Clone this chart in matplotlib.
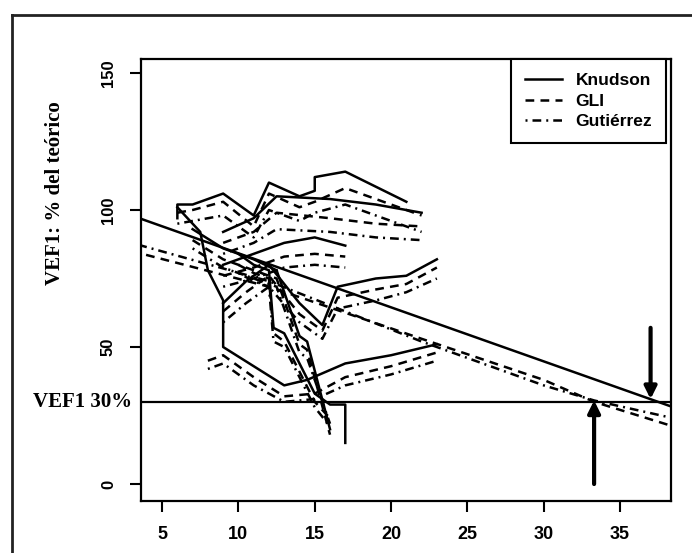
import matplotlib.pyplot as plt
from matplotlib.lines import Line2D

# long reference lines (age, % predicted)
knudson_long_x = [3, 38.5]
knudson_long_y = [98, 28]
gli_long_x = [3, 12, 22, 30, 33.3, 38.5]
gli_long_y = [85, 72, 53, 38, 30, 21]
gutierrez_long_x = [3, 12, 22, 30, 33.3, 38.5]
gutierrez_long_y = [88, 74, 52, 36, 30.5, 24]

# individual patients, one list per patient
knudson_x = [
    [6, 6, 7, 9, 11, 12, 14, 15, 15, 17, 21],
    [9, 11, 12.5, 16, 19, 22],
    [9, 11, 13, 15, 17],
    [9, 10.5, 12, 14, 15.5, 16.5, 19, 21, 23],
    [7, 9, 11, 12.5, 14, 14.5, 16],
    [6, 7.5, 8, 9, 9, 11, 13, 14.5, 17, 20, 23],
    [10, 11, 12, 12.3, 13, 15, 16, 17, 17],
]
knudson_y = [
    [97, 102, 102, 106, 98, 110, 105, 107, 112, 114, 103],
    [92, 97, 105, 104, 102, 99],
    [80, 84, 88, 90, 87],
    [66, 74, 80, 66, 58, 72, 75, 76, 82],
    [93, 86, 82, 78, 54, 52, 20],
    [101, 92, 78, 67, 50, 43, 36, 38, 44, 47, 51],
    [84, 80, 78, 57, 55, 33, 29, 29, 15],
]
gli_x = [
    [6, 7, 9, 11, 12, 14, 15, 17, 22],
    [9, 11, 12.5, 16, 19, 22],
    [9, 11, 13, 15, 17],
    [9, 10.5, 12, 14, 15.5, 16.5, 19, 21, 23],
    [7, 9, 11, 12.5, 14, 14.5, 16],
    [8, 9, 11, 13, 15, 17, 20, 23],
    [10, 11, 12, 12.3, 13, 15, 16],
]
gli_y = [
    [99, 100, 103, 94, 106, 101, 103, 108, 98],
    [88, 92, 99, 97, 95, 94],
    [76, 79, 83, 84, 83],
    [63, 70, 76, 62, 56, 68, 71, 73, 79],
    [89, 82, 78, 75, 51, 49, 18],
    [45, 47, 39, 32, 33, 39, 43, 48],
    [80, 77, 75, 55, 52, 30, 24],
]
gutierrez_x = gli_x
gutierrez_y = [
    [95, 96, 98, 90, 100, 96, 99, 102, 92],
    [84, 88, 93, 92, 90, 89],
    [72, 75, 79, 80, 79],
    [59, 66, 72, 59, 53, 64, 67, 70, 75],
    [86, 79, 75, 72, 48, 46, 22],
    [42, 44, 36, 30, 31, 36, 40, 45],
    [77, 74, 72, 52, 50, 28, 21],
]

x_ticks = [5, 10, 15, 20, 25, 30, 35]
y_ticks = [0, 50, 100, 150]
cutoff = 30

k_style = dict(color='black', lw=1.8, ls='-')
g_style = dict(color='black', lw=1.8, ls=(0, (3.5, 2.5)))
t_style = dict(color='black', lw=1.8, ls=(0, (0.8, 2, 3.5, 2)))

fig = plt.figure(figsize=(6.92, 5.53), dpi=100)
ax = fig.add_axes([0.2038, 0.0940, 0.7659, 0.7993])

ax.plot(knudson_long_x, knudson_long_y, **k_style)
ax.plot(gli_long_x, gli_long_y, **g_style)
ax.plot(gutierrez_long_x, gutierrez_long_y, **t_style)
for xs, ys in zip(knudson_x, knudson_y):
    ax.plot(xs, ys, **k_style)
for xs, ys in zip(gli_x, gli_y):
    ax.plot(xs, ys, **g_style)
for xs, ys in zip(gutierrez_x, gutierrez_y):
    ax.plot(xs, ys, **t_style)

ax.axhline(cutoff, color='black', lw=1.6)
arrow = dict(arrowstyle='-|>', lw=3, color='black', mutation_scale=18, shrinkA=0, shrinkB=0)
ax.annotate('', xy=(37, 31), xytext=(37, 57), arrowprops=arrow)
ax.annotate('', xy=(33.3, 30.5), xytext=(33.3, 0), arrowprops=arrow)

ax.set_xlim(3.62, 38.34)
ax.set_ylim(-6.2, 155.1)
ax.set_xticks(x_ticks)
ax.set_xticklabels([str(t) for t in x_ticks], family='Liberation Sans', weight='bold', fontsize=13)
ax.set_yticks(y_ticks)
ax.set_yticklabels([str(t) for t in y_ticks], family='Liberation Sans', weight='bold', fontsize=12,
                   rotation=90, va='center')
ax.tick_params(length=8, width=1.5, pad=10)
for s in ax.spines.values():
    s.set_linewidth(1.6)

handles = [Line2D([], [], **k_style), Line2D([], [], **g_style), Line2D([], [], **t_style)]
leg = ax.legend(handles, ['Knudson', 'GLI', 'Gutiérrez'], loc='upper right',
                bbox_to_anchor=(0.9906, 1.0), borderaxespad=0, fancybox=False,
                edgecolor='black', framealpha=1, handlelength=2.1, handletextpad=0.8,
                borderpad=0.8, labelspacing=0.32,
                prop=dict(family='Liberation Sans', weight='bold', size=12.5))
leg.get_frame().set_linewidth(1.5)

fig.text(55 / 692, 1 - 193 / 553, 'VEF1: % del teórico', rotation=90, ha='center', va='center',
         family='Liberation Serif', weight='bold', fontsize=15)
fig.text(132 / 692, 1 - 402 / 553, 'VEF1 30%', ha='right', va='center',
         family='Liberation Serif', weight='bold', fontsize=15)

# outer frame: only left and top edges are inside the picture
fx, fy = 12 / 692, 1 - 15 / 553
fig.add_artist(Line2D([fx, 1.0], [fy, fy], transform=fig.transFigure, color='#222222', lw=2))
fig.add_artist(Line2D([fx, fx], [0, fy], transform=fig.transFigure, color='#222222', lw=2))

plt.savefig('out.png', dpi=100)
